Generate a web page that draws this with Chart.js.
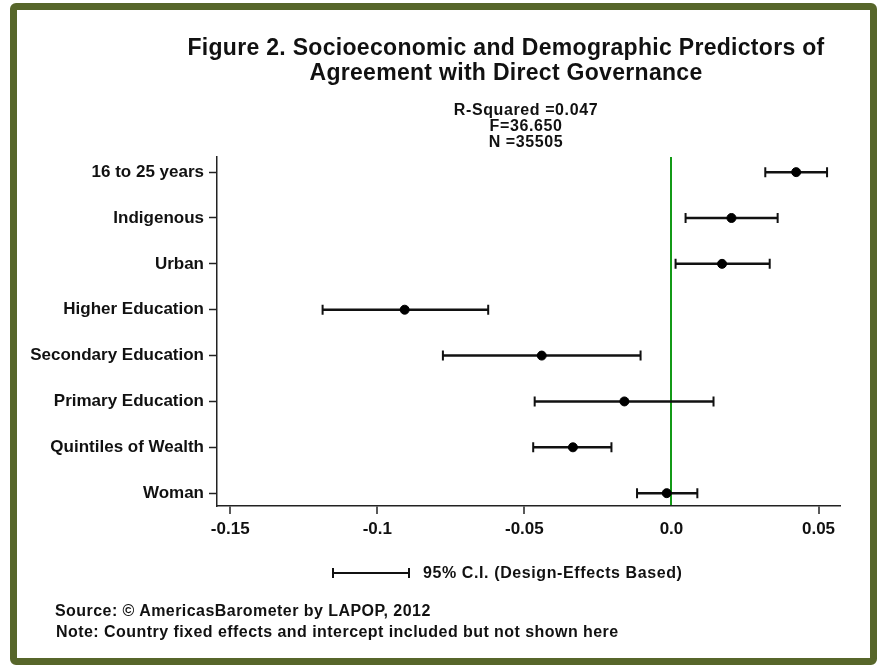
<!DOCTYPE html>
<html>
<head>
<meta charset="utf-8">
<script src="https://cdn.jsdelivr.net/npm/chart.js@4.4.1/dist/chart.umd.min.js"></script>
<style>
    html, body { margin: 0; padding: 0; background: #fff; }
    body { width: 877px; height: 665px; position: relative; overflow: hidden; font-family: "Liberation Sans", Arial, sans-serif; color: #111; }
    #frame { position: absolute; left: 10px; top: 3px; width: 867px; height: 662px; box-sizing: border-box; border: 7px solid #57662a; border-radius: 6px; }
    #chartBox { position: absolute; left: 0; top: 0; width: 877px; height: 665px; }
    .txt { position: absolute; font-weight: bold; white-space: nowrap; }
    #title { left: 106px; width: 800px; top: 35px; text-align: center; font-size: 23px; line-height: 25px; letter-spacing: 0.3px; }
    #stats { left: 376px; width: 300px; top: 102px; text-align: center; font-size: 16px; line-height: 16px; letter-spacing: 0.6px; }
    #legend { left: 423px; top: 564px; font-size: 16px; line-height: 18px; letter-spacing: 0.6px; }
    #legendBar { position: absolute; left: 332px; top: 572px; width: 78px; height: 2px; background: #111; }
    #legendBar:before, #legendBar:after { content: ""; position: absolute; top: -4px; width: 2px; height: 10px; background: #111; }
    #legendBar:before { left: 0; }
    #legendBar:after { right: 0; }
    #notes { left: 55px; top: 600px; font-size: 16px; line-height: 21px; letter-spacing: 0.45px; }
    #notes span { margin-left: 1px; }
</style>
</head>
<body>
<div id="frame"></div>
<div id="chartBox"><canvas id="coefChart"></canvas></div>
<div class="txt" id="title">Figure 2. Socioeconomic and Demographic Predictors of<br>Agreement with Direct Governance</div>
<div class="txt" id="stats">R-Squared =0.047<br>F=36.650<br>N =35505</div>
<div id="legendBar"></div>
<div class="txt" id="legend">95% C.I. (Design-Effects Based)</div>
<div class="txt" id="notes">Source: © AmericasBarometer by LAPOP, 2012<br><span>Note: Country fixed effects and intercept included but not shown here</span></div>

<script>
// Predictors, top to bottom
const predictors = ['16 to 25 years', 'Indigenous', 'Urban', 'Higher Education', 'Secondary Education', 'Primary Education', 'Quintiles of Wealth', 'Woman'];
// Coefficients and 95% CI bounds
const coefficients = [0.0424, 0.0204, 0.0172, -0.0907, -0.0441, -0.0160, -0.0335, -0.0016];
const ciLower = [0.0319, 0.0048, 0.0014, -0.1186, -0.0777, -0.0465, -0.0470, -0.0117];
const ciUpper = [0.0529, 0.0361, 0.0334, -0.0623, -0.0105, 0.0143, -0.0204, 0.0088];
// X axis tick labels
const xTicks = [-0.15, -0.1, -0.05, 0, 0.05];
const xTickLabels = ['-0.15', '-0.1', '-0.05', '0.0', '0.05'];

const zeroGreen = '#139a16';
const axisColor = '#222';

// Draw the confidence interval whiskers behind the points
const ciPlugin = {
    id: 'ciBars',
    beforeDatasetsDraw(chart) {
        const ctx = chart.ctx;
        const xs = chart.scales.x;
        const ys = chart.scales.y;
        ctx.save();
        ctx.strokeStyle = '#111';
        predictors.forEach((p, i) => {
            const y = ys.getPixelForValue(i);
            const x1 = xs.getPixelForValue(ciLower[i]);
            const x2 = xs.getPixelForValue(ciUpper[i]);
            ctx.lineWidth = 2.5;
            ctx.beginPath();
            ctx.moveTo(x1, y);
            ctx.lineTo(x2, y);
            ctx.stroke();
            ctx.lineWidth = 2;
            ctx.beginPath();
            ctx.moveTo(x1, y - 5);
            ctx.lineTo(x1, y + 5);
            ctx.moveTo(x2, y - 5);
            ctx.lineTo(x2, y + 5);
            ctx.stroke();
        });
        ctx.restore();
    }
};

const labelFont = { family: 'Liberation Sans', size: 17, weight: 'bold' };

const coefCtx = document.getElementById('coefChart');
const coefChart = new Chart(coefCtx, {
    type: 'scatter',
    data: {
        datasets: [{
            label: 'Coefficient',
            data: coefficients.map((c, i) => ({ x: c, y: i })),
            backgroundColor: '#000',
            borderColor: '#000',
            pointRadius: 4.5,
            pointHoverRadius: 4.5
        }]
    },
    options: {
        responsive: true,
        maintainAspectRatio: false,
        animation: false,
        layout: { padding: { left: 0, top: 157, right: 37, bottom: 0 } },
        plugins: {
            legend: { display: false },
            tooltip: { enabled: false }
        },
        scales: {
            x: {
                type: 'linear',
                min: -0.1545,
                max: 0.0573,
                afterBuildTicks: (scale) => { scale.ticks = xTicks.map(v => ({ value: v })); },
                afterFit: (scale) => { scale.height = 159; },
                ticks: {
                    color: '#111',
                    font: labelFont,
                    padding: 5,
                    maxRotation: 0,
                    callback: (v) => xTickLabels[xTicks.indexOf(v)]
                },
                grid: {
                    drawOnChartArea: true,
                    color: (c) => (c.tick && c.tick.value === 0) ? zeroGreen : 'rgba(0,0,0,0)',
                    lineWidth: 2,
                    tickColor: (c) => (c.tick && c.tick.value === 0) ? 'rgba(0,0,0,0)' : axisColor,
                    tickLength: 8,
                    tickWidth: 1.5
                },
                border: { display: true, color: axisColor, width: 1.5 }
            },
            y: {
                type: 'linear',
                reverse: true,
                min: -0.33,
                max: 7.28,
                afterBuildTicks: (scale) => { scale.ticks = predictors.map((p, i) => ({ value: i })); },
                afterFit: (scale) => { scale.width = 217; },
                ticks: {
                    color: '#111',
                    font: labelFont,
                    padding: 5,
                    callback: (v) => predictors[v]
                },
                grid: {
                    drawOnChartArea: false,
                    tickColor: axisColor,
                    tickLength: 8,
                    tickWidth: 1.5
                },
                border: { display: true, color: axisColor, width: 1.5 }
            }
        }
    },
    plugins: [ciPlugin]
});
</script>
</body>
</html>
